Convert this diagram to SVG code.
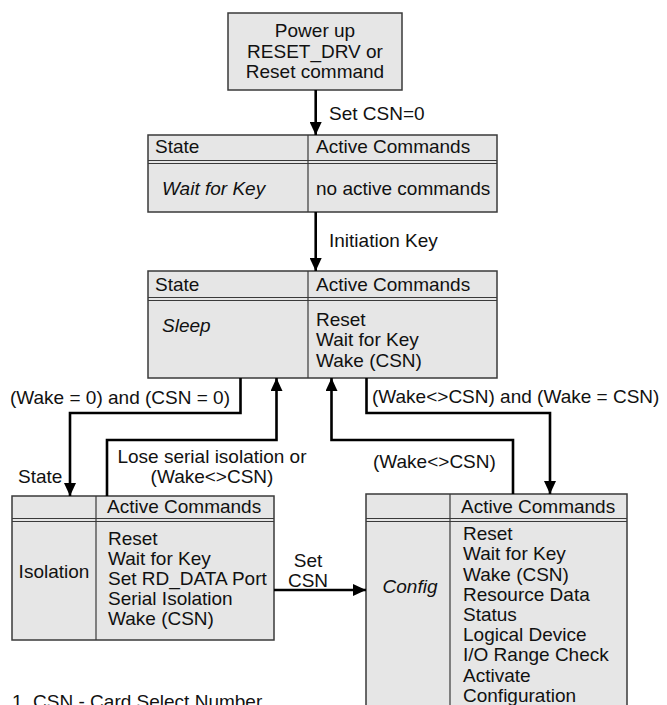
<svg xmlns="http://www.w3.org/2000/svg" width="667" height="705" viewBox="0 0 667 705">
  <style>
    text { font-family: "Liberation Sans", Arial, sans-serif; font-size: 19px; fill: #111; }
    .it { font-style: italic; }
    .mid { text-anchor: middle; }
    .box { fill: #e6e6e6; stroke: #3a3a3a; stroke-width: 1.5; }
    .rule { stroke: #3a3a3a; stroke-width: 1.2; fill: none; }
    .wire { stroke: #000; stroke-width: 2.6; fill: none; }
  </style>
  <defs>
    <marker id="head" markerUnits="userSpaceOnUse" markerWidth="14" markerHeight="12" refX="13" refY="6" orient="auto">
      <path d="M0,0 L13,6 L0,12 Z" fill="#000"/>
    </marker>
  </defs>
  <rect width="667" height="705" fill="#fff"/>

  <!-- reset trigger -->
  <g id="reset">
    <rect class="box" x="228" y="13" width="174" height="77"/>
    <text class="mid" x="315" y="37">Power up</text>
    <text class="mid" x="315" y="57.5">RESET_DRV or</text>
    <text class="mid" x="315" y="78">Reset command</text>
  </g>

  <!-- Wait for Key state -->
  <g id="wait-for-key">
    <rect class="box" x="148" y="135" width="349" height="77"/>
    <line class="rule" x1="148" y1="160.5" x2="497" y2="160.5"/>
    <line class="rule" x1="148" y1="163.5" x2="497" y2="163.5"/>
    <line class="rule" x1="308" y1="135" x2="308" y2="212"/>
    <text x="155" y="153">State</text>
    <text x="316" y="153">Active Commands</text>
    <text class="it" x="162" y="195">Wait for Key</text>
    <text x="316" y="195">no active commands</text>
  </g>

  <!-- Sleep state -->
  <g id="sleep">
    <rect class="box" x="148" y="271" width="349" height="107"/>
    <line class="rule" x1="148" y1="297.5" x2="497" y2="297.5"/>
    <line class="rule" x1="148" y1="300.5" x2="497" y2="300.5"/>
    <line class="rule" x1="308" y1="271" x2="308" y2="378"/>
    <text x="155" y="291">State</text>
    <text x="316" y="291">Active Commands</text>
    <text class="it" x="162" y="332">Sleep</text>
    <text x="316" y="325.5">Reset</text>
    <text x="316" y="346">Wait for Key</text>
    <text x="316" y="366.5">Wake (CSN)</text>
  </g>

  <!-- Isolation state -->
  <g id="isolation">
    <rect class="box" x="12" y="496" width="262" height="144"/>
    <line class="rule" x1="12" y1="518.5" x2="274" y2="518.5"/>
    <line class="rule" x1="12" y1="521.5" x2="274" y2="521.5"/>
    <line class="rule" x1="96" y1="496" x2="96" y2="640"/>
    <text x="107" y="513">Active Commands</text>
    <text class="mid" x="54" y="578">Isolation</text>
    <text x="108" y="545">Reset</text>
    <text x="108" y="565">Wait for Key</text>
    <text x="108" y="584.5">Set RD_DATA Port</text>
    <text x="108" y="604.5">Serial Isolation</text>
    <text x="108" y="624.5">Wake (CSN)</text>
  </g>

  <!-- Config state -->
  <g id="config">
    <rect class="box" x="366" y="494" width="261" height="220"/>
    <line class="rule" x1="366" y1="518.5" x2="627" y2="518.5"/>
    <line class="rule" x1="366" y1="521.5" x2="627" y2="521.5"/>
    <line class="rule" x1="450" y1="494" x2="450" y2="714"/>
    <text x="461" y="513">Active Commands</text>
    <text class="it mid" x="410" y="593">Config</text>
    <text x="463" y="540">Reset</text>
    <text x="463" y="560">Wait for Key</text>
    <text x="463" y="580.5">Wake (CSN)</text>
    <text x="463" y="600.5">Resource Data</text>
    <text x="463" y="621">Status</text>
    <text x="463" y="641">Logical Device</text>
    <text x="463" y="661">I/O Range Check</text>
    <text x="463" y="681.5">Activate</text>
    <text x="463" y="701.5">Configuration</text>
  </g>

  <!-- transitions -->
  <g id="connectors">
    <path class="wire" d="M315.7,90 V135" marker-end="url(#head)"/>
    <path class="wire" d="M315.7,212 V271" marker-end="url(#head)"/>
    <path class="wire" d="M240.5,378 V413 H70 V496" marker-end="url(#head)"/>
    <path class="wire" d="M107,496 V440 H276.5 V378" marker-end="url(#head)"/>
    <path class="wire" d="M513,494 V440 H331.5 V378" marker-end="url(#head)"/>
    <path class="wire" d="M366.5,378 V413 H550 V494" marker-end="url(#head)"/>
    <path class="wire" d="M274,590 H366" marker-end="url(#head)"/>
  </g>

  <!-- transition labels -->
  <g id="labels">
    <text x="329" y="120">Set CSN=0</text>
    <text x="329" y="247">Initiation Key</text>
    <text x="10" y="404">(Wake = 0) and (CSN = 0)</text>
    <text x="372" y="403">(Wake&lt;&gt;CSN) and (Wake = CSN)</text>
    <text class="mid" x="212" y="463">Lose serial isolation or</text>
    <text class="mid" x="212" y="483">(Wake&lt;&gt;CSN)</text>
    <text x="18" y="483">State</text>
    <text x="373" y="468">(Wake&lt;&gt;CSN)</text>
    <text class="mid" x="308" y="567">Set</text>
    <text class="mid" x="308" y="587">CSN</text>
    <text x="12" y="708">1. CSN - Card Select Number</text>
  </g>
</svg>
